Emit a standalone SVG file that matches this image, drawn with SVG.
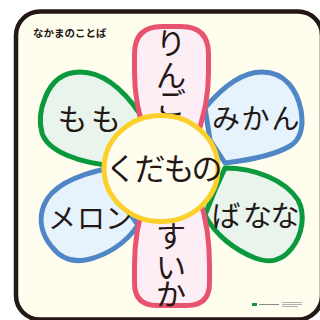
<svg xmlns="http://www.w3.org/2000/svg" width="320" height="320" viewBox="0 0 320 320">
<style>
.jp{font-family:"Noto Sans CJK JP","Noto Sans",sans-serif;fill:#231815;text-anchor:middle}
.big{font-size:30px}
.pink{fill:#fdedf5;stroke:#e8546f;stroke-width:5;stroke-linejoin:round}
.green{fill:#e8f4ec;stroke:#0a9a3d;stroke-width:5;stroke-linejoin:round}
.blue{fill:#e6f3fc;stroke:#4f86c6;stroke-width:5;stroke-linejoin:round}
.center{fill:#fffdee;stroke:#fbd02a;stroke-width:5}
</style>
<rect width="320" height="320" fill="#ffffff"/>
<g id="card">
<rect x="16" y="11.5" width="306" height="308" rx="24" fill="#fffdee" stroke="#231815" stroke-width="4.5"/>
<text x="33" y="36.5" font-family="'Noto Sans CJK JP',sans-serif" font-size="10.5" font-weight="bold" fill="#231815">なかまのことば</text>
</g>
<g id="petal-momo">
<path class="green" d="M 140,114 C 125,92 105,72 80,72 C 60,72 50,85 45,98 C 40,110 39,122 42,133 C 48,152 80,163 115,166 L 140,140 Z"/>
<text class="jp big" x="72.5 106" y="130">もも</text>
</g>
<g id="petal-mikan">
<path class="blue" d="M 205,108 C 220,90 240,72 262,72 C 285,72 297,90 301,110 C 304,128 300,140 290,146 C 275,155 250,160 225,163 L 210,140 Z"/>
<text class="jp" font-size="28" x="226 255.5 285.5" y="129">みかん</text>
</g>
<g id="petal-melon">
<path class="blue" d="M 110,168 C 80,174 52,185 44,205 C 38,220 42,235 52,247 C 62,260 75,263 90,259 C 105,255 125,245 138,225 L 120,200 Z"/>
<text class="jp" font-size="28" x="62 91 119" y="229">メロン</text>
</g>
<g id="petal-banana">
<path class="green" d="M 225,168 C 255,168 285,180 298,200 C 306,215 302,235 292,248 C 283,260 270,264 255,258 C 235,250 215,235 205,215 L 215,190 Z"/>
<text class="jp" font-size="29" x="226 257.5 285" y="227">ばなな</text>
</g>
<g id="petal-ringo">
<path class="pink" d="M 145,135 C 140,115 134.5,100 134.5,72 L 134.5,54 Q 134.5,26.5 162,26.5 L 181,26.5 Q 208.5,26.5 208.5,54 L 208.5,72 C 208.5,100 203,115 198,135 Z"/>
<text class="jp" font-size="30" x="171 171 171" y="54 86 114">りんご</text>
</g>
<g id="petal-suika">
<path class="pink" d="M 145,200 C 140,215 134.5,235 134.5,265 L 134.5,283 Q 134.5,305.5 157,305.5 L 187,305.5 Q 209.5,305.5 209.5,283 L 209.5,265 C 209.5,235 205,215 200,200 Z"/>
<text class="jp big" x="171 171 171" y="246.5 277.5 305">すいか</text>
</g>
<g id="center">
<ellipse class="center" cx="161" cy="168.5" rx="57" ry="53"/>
<text class="jp" font-size="31" x="121 150 179 207" y="180">くだもの</text>
</g>
<g id="logo">
<rect x="252" y="303" width="5" height="3" fill="#0a9a3d"/>
<rect x="259" y="304" width="20" height="1" fill="#8a8a8a"/>
<rect x="282" y="302" width="20" height="1" fill="#b0b0b0"/>
<rect x="282" y="304" width="20" height="1" fill="#b0b0b0"/>
<rect x="282" y="306" width="16" height="1" fill="#b0b0b0"/>
</g>
</svg>
